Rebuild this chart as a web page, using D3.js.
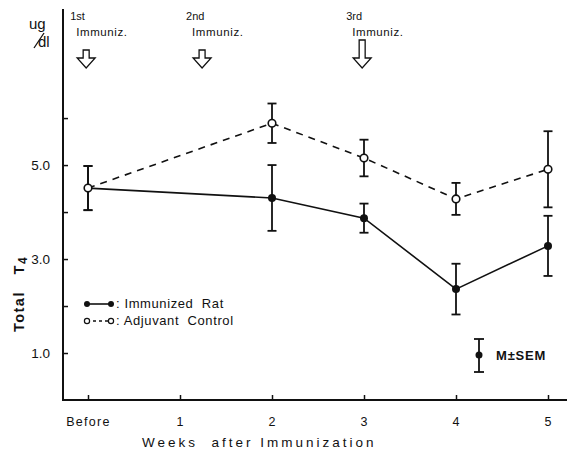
<!DOCTYPE html>
<html><head><meta charset="utf-8">
<script src="https://cdn.jsdelivr.net/npm/d3@7"></script>
<style>
body{margin:0;background:#fff}
svg{display:block}
text{font-family:"Liberation Sans",Arial,sans-serif;fill:#111;white-space:pre}
</style></head><body>
<svg id="c" width="567" height="452"></svg>
<script>
const categories = ["Before","1","2","3","4","5"];
const weeksImm = [0,2,3,4,5];
const immMean = [4.51,4.30,3.87,2.36,3.28];
const immErr  = [0.47,0.70,0.31,0.54,0.64];
const weeksAdj = [0,2,3,4,5];
const adjMean = [4.51,5.89,5.15,4.28,4.91];
const adjErr  = [0.47,0.42,0.39,0.34,0.81];
const yTicks = [1,2,3,4,5,6];
const yLabeled = [1,3,5];
const immunizations = [{label:"1st", week:-0.02},{label:"2nd", week:1.24},{label:"3rd", week:2.98}];

const svg = d3.select("#c");
const x = d3.scaleLinear().domain([0,5]).range([88,548]);
const y = d3.scaleLinear().domain([0,8.3]).range([400,10]);
const ink = "#111";

// axes
svg.append("line").attr("x1",63).attr("x2",63).attr("y1",9).attr("y2",401).attr("stroke",ink).attr("stroke-width",2);
svg.append("line").attr("x1",62).attr("x2",567).attr("y1",400).attr("y2",400).attr("stroke",ink).attr("stroke-width",2);

const yAxis = d3.axisLeft(y).tickValues(yTicks).tickSizeInner(-5).tickSizeOuter(0).tickPadding(13)
  .tickFormat(d => yLabeled.includes(d) ? d3.format(".1f")(d) : "");
const gy = svg.append("g").attr("transform","translate(63,0)").call(yAxis);
gy.select(".domain").remove();
gy.selectAll("line").attr("stroke",ink).attr("stroke-width",1.5);
gy.selectAll("text").attr("font-size",13.5).attr("fill",ink).style("font-family","Liberation Sans,Arial,sans-serif");

const xAxis = d3.axisBottom(x).tickValues([0,1,2,3,4,5]).tickSizeInner(-5).tickSizeOuter(0).tickPadding(17)
  .tickFormat((d,i) => categories[i]);
const gx = svg.append("g").attr("transform","translate(0,400)").call(xAxis);
gx.select(".domain").remove();
gx.selectAll("line").attr("stroke",ink).attr("stroke-width",1.5);
gx.selectAll("text").attr("font-size",12.5).attr("fill",ink).style("letter-spacing","1.3px").style("font-family","Liberation Sans,Arial,sans-serif");

// axis titles
svg.append("text").attr("x",142).attr("y",447).attr("font-size",13.5)
  .style("letter-spacing","3px").text("Weeks  after Immunization");
const yt = svg.append("text").attr("transform","translate(24,294) rotate(-90)").attr("text-anchor","middle")
  .attr("font-size",14.5).attr("font-weight","bold").style("letter-spacing","1.5px");
yt.append("tspan").text("Total   T");
yt.append("tspan").attr("font-size",12).attr("dy",3).text("4");

// unit label
svg.append("text").attr("x",29).attr("y",29).attr("font-size",15).text("ug");
svg.append("text").attr("x",38).attr("y",47).attr("font-size",15).text("dl");
svg.append("line").attr("x1",34).attr("y1",48).attr("x2",44).attr("y2",33).attr("stroke",ink).attr("stroke-width",1.3);

// immunization annotations
immunizations.forEach(m => {
  const cx = x(m.week);
  const g = svg.append("g");
  g.append("text").attr("x",cx-16).attr("y",20).attr("font-size",11).text(m.label);
  g.append("text").attr("x",cx-10).attr("y",36).attr("font-size",11.5).style("letter-spacing","0.6px").text("Immuniz.");
  const top = m.label==="3rd" ? 40 : 50;
  g.append("path").attr("d",`M${cx-3},${top} L${cx+3},${top} L${cx+3},${58} L${cx+9},${58} L${cx},${68} L${cx-9},${58} L${cx-3},${58} Z`)
    .attr("fill","none").attr("stroke",ink).attr("stroke-width",1.3).attr("stroke-linejoin","miter");
});

// series
const immData = weeksImm.map((w,i)=>({w, m:immMean[i], e:immErr[i]}));
const adjData = weeksAdj.map((w,i)=>({w, m:adjMean[i], e:adjErr[i]}));
const line = d3.line().x(d=>x(d.w)).y(d=>y(d.m));

function errorBars(data){
  const g = svg.append("g").attr("stroke",ink).attr("stroke-width",1.8);
  data.forEach(d=>{
    g.append("line").attr("x1",x(d.w)).attr("x2",x(d.w)).attr("y1",y(d.m+d.e)).attr("y2",y(d.m-d.e));
    [d.m+d.e,d.m-d.e].forEach(v=>g.append("line").attr("x1",x(d.w)-4.5).attr("x2",x(d.w)+4.5).attr("y1",y(v)).attr("y2",y(v)));
  });
}
errorBars(immData);
errorBars(adjData);

svg.append("path").datum(immData).attr("d",line).attr("fill","none").attr("stroke",ink).attr("stroke-width",1.6);
svg.append("path").datum(adjData).attr("d",line).attr("fill","none").attr("stroke",ink).attr("stroke-width",1.6).attr("stroke-dasharray","7,6");

svg.append("g").selectAll("circle").data(immData.slice(1)).join("circle")
  .attr("cx",d=>x(d.w)).attr("cy",d=>y(d.m)).attr("r",4).attr("fill",ink);
svg.append("g").selectAll("circle").data(adjData).join("circle")
  .attr("cx",d=>x(d.w)).attr("cy",d=>y(d.m)).attr("r",3.8).attr("fill","#fff").attr("stroke",ink).attr("stroke-width",1.6);

// legend
const lg = svg.append("g");
lg.append("line").attr("x1",87).attr("x2",111).attr("y1",304).attr("y2",304).attr("stroke",ink).attr("stroke-width",1.6);
[87,111].forEach(cx=>lg.append("circle").attr("cx",cx).attr("cy",304).attr("r",3).attr("fill",ink));
lg.append("text").attr("x",116).attr("y",308).attr("font-size",13).style("letter-spacing","0.6px").text(": Immunized  Rat");
lg.append("line").attr("x1",87).attr("x2",111).attr("y1",321).attr("y2",321).attr("stroke",ink).attr("stroke-width",1.4).attr("stroke-dasharray","3,3");
[87,111].forEach(cx=>lg.append("circle").attr("cx",cx).attr("cy",321).attr("r",2.6).attr("fill","#fff").attr("stroke",ink).attr("stroke-width",1.2));
lg.append("text").attr("x",116).attr("y",325).attr("font-size",13).style("letter-spacing","0.6px").text(": Adjuvant  Control");

// M ± SEM key
const kg = svg.append("g").attr("stroke",ink).attr("stroke-width",1.8);
kg.append("line").attr("x1",479).attr("x2",479).attr("y1",339).attr("y2",372);
kg.append("line").attr("x1",474).attr("x2",484).attr("y1",339).attr("y2",339);
kg.append("line").attr("x1",474).attr("x2",484).attr("y1",372).attr("y2",372);
svg.append("circle").attr("cx",479).attr("cy",355).attr("r",3.5).attr("fill",ink);
svg.append("text").attr("x",496).attr("y",360).attr("font-size",13).attr("font-weight","bold").style("letter-spacing","0.8px").text("M\u00B1SEM");
</script>
</body></html>
